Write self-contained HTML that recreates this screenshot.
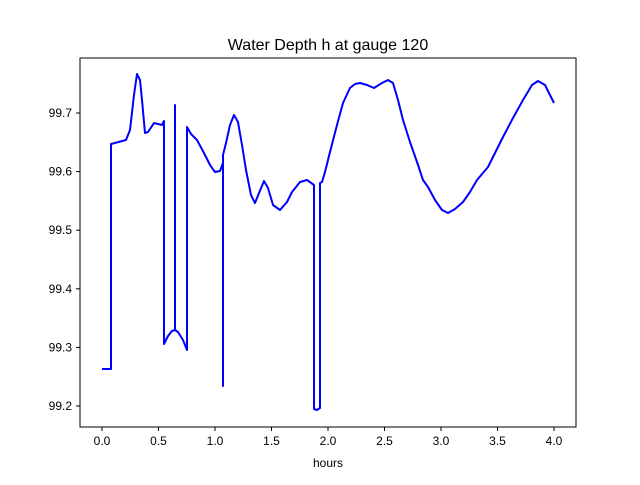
<!DOCTYPE html>
<html><head><style>body{margin:0;background:#fff}</style></head><body>
<svg width="640" height="480" xmlns="http://www.w3.org/2000/svg" font-family="Liberation Sans, DejaVu Sans, sans-serif">
<rect x="80" y="58" width="496" height="369" fill="#fff" stroke="#000" stroke-width="1"/>
<text x="328" y="50" font-size="16" text-anchor="middle">Water Depth h at gauge 120</text>
<g stroke="#000" stroke-width="1">
<line x1="102" y1="427" x2="102" y2="431"/><line x1="158.5" y1="427" x2="158.5" y2="431"/><line x1="215" y1="427" x2="215" y2="431"/><line x1="271.5" y1="427" x2="271.5" y2="431"/><line x1="328" y1="427" x2="328" y2="431"/><line x1="384.5" y1="427" x2="384.5" y2="431"/><line x1="441" y1="427" x2="441" y2="431"/><line x1="497.5" y1="427" x2="497.5" y2="431"/><line x1="554" y1="427" x2="554" y2="431"/>
<line x1="76" y1="406" x2="80" y2="406"/><line x1="76" y1="347.4" x2="80" y2="347.4"/><line x1="76" y1="288.8" x2="80" y2="288.8"/><line x1="76" y1="230.2" x2="80" y2="230.2"/><line x1="76" y1="171.6" x2="80" y2="171.6"/><line x1="76" y1="113" x2="80" y2="113"/>
</g>
<g font-size="12" text-anchor="middle">
<text x="102" y="445">0.0</text><text x="158.5" y="445">0.5</text><text x="215" y="445">1.0</text><text x="271.5" y="445">1.5</text><text x="328" y="445">2.0</text><text x="384.5" y="445">2.5</text><text x="441" y="445">3.0</text><text x="497.5" y="445">3.5</text><text x="554" y="445">4.0</text>
<text x="328" y="467">hours</text>
</g>
<g font-size="12" text-anchor="end">
<text x="72" y="410">99.2</text><text x="72" y="351.4">99.3</text><text x="72" y="292.8">99.4</text><text x="72" y="234.2">99.5</text><text x="72" y="175.6">99.6</text><text x="72" y="117">99.7</text>
</g>
<polyline fill="none" stroke="#0000ff" stroke-width="2" stroke-linejoin="round" points="102,369 111,369 111,144 126,140 130,130 134,95 137,74 140,80 142,100 145,133 148,132 154,123 158,124 162,125 164,121 164,344 168,336 172,331 175,330 175,105 175,330 178,332 183,340 187,350 187,127 191,134 197,140 204,153 210,165 215,172 220,171 223,163 223,386 223,155 226,143 230,125 234,115 238,122 242,145 246,170 251,195 255,203 259,193 264,181 268,188 273,205 280,210 287,202 292,192 300,182 307,180 314,185 314,409 317,410 320,408 320,183 322,182 325,172 330,152 337,125 343,103 350,88 355,84 360,83 367,85 374,88 382,83 388,80 393,83 398,100 403,120 410,142 417,162 423,180 428,187 435,200 442,210 448,213 455,209 463,202 470,192 477,180 488,167 495,153 503,137 513,118 523,100 532,85 538,81 545,85 554,103"/>
</svg>
</body></html>
